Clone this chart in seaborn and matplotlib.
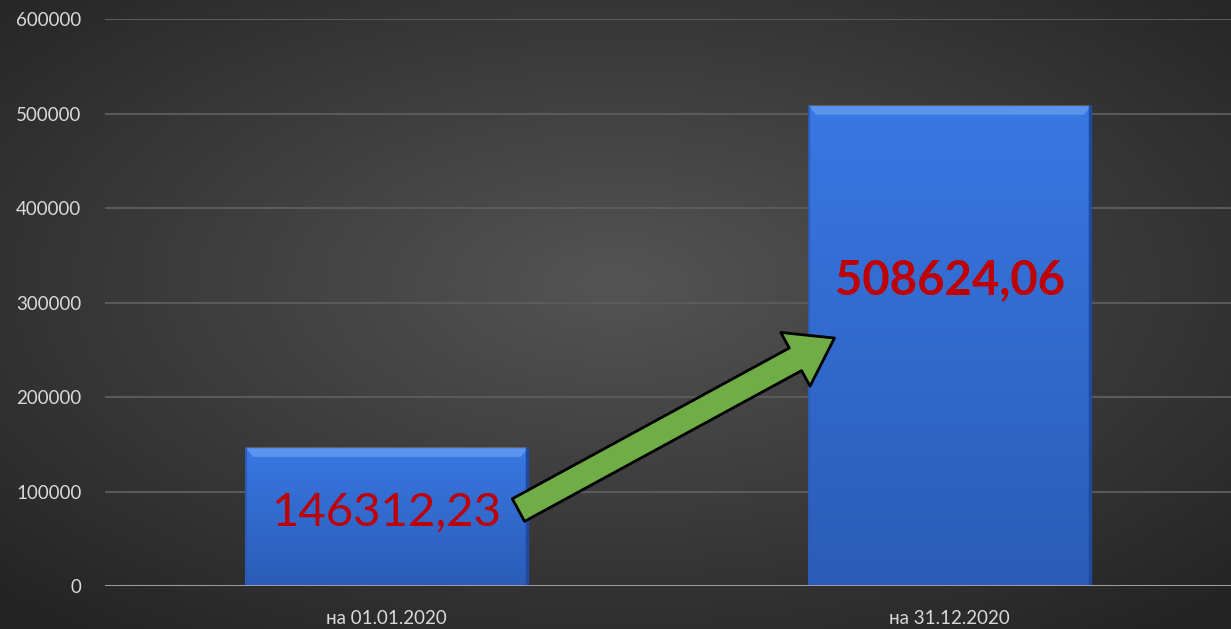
import numpy as np
import pandas as pd
import matplotlib
matplotlib.use('Agg')
import matplotlib.pyplot as plt
import seaborn as sns
from matplotlib.patches import FancyArrowPatch

# data
categories = ['на 01.01.2020', 'на 31.12.2020']
values = [146312.23, 508624.06]
value_labels = ['146312,23', '508624,06']
y_ticks = [0, 100000, 200000, 300000, 400000, 500000, 600000]

# arrow between the bars (data coords)
arrow_start = (0.23, 79000)
arrow_end = (0.80, 264000)

df = pd.DataFrame({'period': categories, 'sum': values})

sns.set_theme(style='dark')
plt.rcParams['font.family'] = ['Lato', 'DejaVu Sans']

fig = plt.figure(figsize=(12.31, 6.29), dpi=100)

# radial grey background
bg = fig.add_axes([0, 0, 1, 1], zorder=-1)
yy, xx = np.mgrid[0:1:300j, 0:1:600j]
r = np.sqrt(((xx - 0.5) / 0.75) ** 2 + ((yy - 0.45) / 0.75) ** 2)
shade = np.clip(0.33 - 0.2 * r, 0.14, 0.34)
bg.imshow(np.dstack([shade] * 3), aspect='auto', extent=[0, 1, 0, 1])
bg.axis('off')

ax = fig.add_axes([0.0853, 0.0684, 0.9147, 0.9006])
ax.patch.set_alpha(0)

sns.barplot(data=df, x='period', y='sum', width=0.5, color='#3470DA',
            saturation=1, ax=ax, zorder=3)

ax.set_ylim(0, 600000)
ax.set_xlim(-0.5, 1.5)
ax.set_yticks(y_ticks)
ax.set_yticklabels([str(t) for t in y_ticks])

# gradient fill + bevel on bars
grad = np.linspace(0, 1, 256).reshape(-1, 1)
top_c = np.array([0.22, 0.47, 0.89])
bot_c = np.array([0.17, 0.36, 0.72])
for p in ax.patches:
    x0, w = p.get_x(), p.get_width()
    h = p.get_height()
    img = top_c * (1 - grad[..., None]) + bot_c * grad[..., None]
    img = np.repeat(img, 4, axis=1)
    im = ax.imshow(img, extent=[x0, x0 + w, 0, h], aspect='auto', zorder=3.5)
    im.set_clip_path(p)
    # bevel on top edge
    bev = 9000
    ax.fill_between([x0, x0 + 0.012, x0 + w - 0.012, x0 + w],
                    [h, h - bev, h - bev, h], h, color='#5B94EE',
                    zorder=3.6, lw=0)
    ax.plot([x0, x0], [0, h], color='#2b5cb8', lw=1.5, zorder=3.7)
    ax.plot([x0 + w, x0 + w], [0, h], color='#1f4aa0', lw=2.5, zorder=3.7)

ax.grid(axis='y', color='#5a5a5a', lw=1.5, zorder=0)
ax.grid(axis='x', visible=False)
for s in ax.spines.values():
    s.set_visible(False)
ax.axhline(0, color='#a6a6a6', lw=2, zorder=4)

ax.tick_params(axis='both', length=0, colors='#d9d9d9', labelsize=13.5)
ax.tick_params(axis='y', pad=17)
ax.tick_params(axis='x', pad=17)
ax.set_xlabel('')
ax.set_ylabel('')

# value labels
ax.text(0, 78000, value_labels[0], color='#C00000', fontsize=34,
        ha='center', va='center', zorder=6)
ax.text(1, 324000, value_labels[1], color='#C00000', fontsize=34,
        fontweight='bold', ha='center', va='center', zorder=6)

arrow = FancyArrowPatch(arrow_start, arrow_end,
                        arrowstyle='simple,head_width=4.4,head_length=3.2,tail_width=1.85',
                        mutation_scale=10, fc='#70AD47', ec='black', lw=2,
                        zorder=5)
ax.add_patch(arrow)

plt.savefig('out.png', dpi=100)
